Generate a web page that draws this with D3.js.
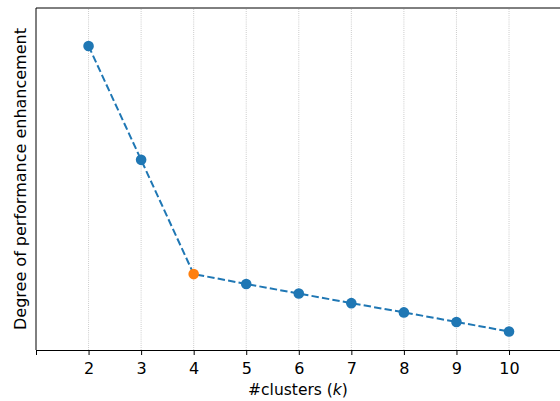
<!DOCTYPE html>
<html>
<head>
<meta charset="utf-8">
<script src="https://cdn.jsdelivr.net/npm/d3@7"></script>
<style>
    body { margin: 0; background: #fff; }
    svg { font-family: "DejaVu Sans", sans-serif; }
</style>
</head>
<body>
<svg id="chart" width="560" height="401"></svg>
<script>
// number of clusters and the measured enhancement (arbitrary units, no y ticks)
const clusters = [2, 3, 4, 5, 6, 7, 8, 9, 10];
const enhancement = [88.9, 55.6, 22.2, 19.3, 16.5, 13.7, 11.0, 8.2, 5.4];
const chosenK = 4;
const xTicks = [1, 2, 3, 4, 5, 6, 7, 8, 9, 10];
const xTickLabels = ['', '2', '3', '4', '5', '6', '7', '8', '9', '10'];

const width = 560, height = 401;
const margin = { top: 8, right: 0, bottom: 51, left: 36 };
const svg = d3.select('#chart');

const x = d3.scaleLinear().domain([1, 10.97]).range([margin.left, width - margin.right]);
const y = d3.scaleLinear().domain([0, 100]).range([height - margin.bottom, margin.top]);

// vertical dotted grid
svg.append('g')
    .selectAll('line')
    .data(xTicks.slice(1))
    .join('line')
    .attr('x1', d => x(d)).attr('x2', d => x(d))
    .attr('y1', y(0)).attr('y2', y(100))
    .attr('stroke', '#b0b0b0')
    .attr('stroke-width', 0.8)
    .attr('stroke-dasharray', '0.8,1.3');

// x axis
const xAxis = d3.axisBottom(x)
    .tickValues(xTicks)
    .tickFormat((d, i) => xTickLabels[i])
    .tickSize(5)
    .tickPadding(7.5);
const gx = svg.append('g')
    .attr('transform', 'translate(0,' + y(0) + ')')
    .call(xAxis);
gx.select('.domain').attr('stroke', '#000').attr('stroke-width', 1);
gx.selectAll('.tick line').attr('stroke', '#000');
gx.selectAll('.tick text').attr('font-size', 16).attr('fill', '#000').attr('font-family', 'DejaVu Sans');

// left and top spines
svg.append('line')
    .attr('x1', margin.left).attr('x2', margin.left)
    .attr('y1', y(0)).attr('y2', y(100))
    .attr('stroke', '#000').attr('stroke-width', 1);
svg.append('line')
    .attr('x1', margin.left).attr('x2', width)
    .attr('y1', y(100)).attr('y2', y(100))
    .attr('stroke', '#000').attr('stroke-width', 1);

// dashed line
const points = clusters.map((k, i) => ({ k: k, v: enhancement[i] }));
const line = d3.line().x(d => x(d.k)).y(d => y(d.v));
svg.append('path')
    .datum(points)
    .attr('d', line)
    .attr('fill', 'none')
    .attr('stroke', '#1f77b4')
    .attr('stroke-width', 2)
    .attr('stroke-dasharray', '7.4,3.2');

// markers
svg.append('g')
    .selectAll('circle')
    .data(points)
    .join('circle')
    .attr('cx', d => x(d.k))
    .attr('cy', d => y(d.v))
    .attr('r', 5.3)
    .attr('fill', d => d.k === chosenK ? '#ff7f0e' : '#1f77b4');

// axis labels
const xLabel = svg.append('text')
    .attr('x', (margin.left + width) / 2)
    .attr('y', 395)
    .attr('text-anchor', 'middle')
    .attr('font-size', 15.5)
    .attr('fill', '#000');
xLabel.append('tspan').text('#clusters (');
xLabel.append('tspan').attr('font-style', 'italic').text('k');
xLabel.append('tspan').text(')');

svg.append('text')
    .attr('transform', 'translate(25.5,' + ((margin.top + y(0)) / 2) + ') rotate(-90)')
    .attr('text-anchor', 'middle')
    .attr('font-size', 16)
    .attr('fill', '#000')
    .text('Degree of performance enhancement');
</script>
</body>
</html>
